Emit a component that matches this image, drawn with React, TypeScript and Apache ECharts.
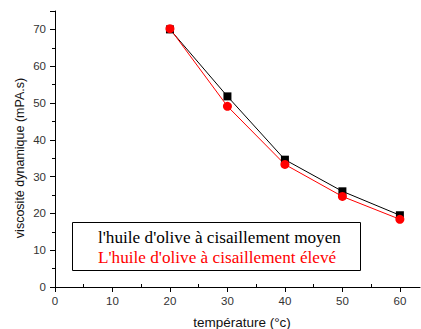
import React, { useEffect, useRef } from "react";
import * as echarts from "echarts";

const temperatures = [20, 30, 40, 50, 60];
const viscosityMedium = [70.0, 51.8, 34.6, 26.0, 19.5];
const viscosityHigh = [70.2, 49.1, 33.3, 24.6, 18.4];
const legendLabels = [
  "l'huile d'olive à cisaillement moyen",
  "L'huile d'olive à cisaillement élevé",
];
const xAxisTitle = "température (°c)";
const yAxisTitle = "viscosité dynamique (mPA.s)";

export default function App() {
  const ref = useRef<HTMLDivElement>(null);

  useEffect(() => {
    if (!ref.current) return;
    const chart = echarts.init(ref.current, null, { renderer: "svg" });
    const sans = "Liberation Sans";
    const serif = "Liberation Serif";
    const axisFont = { fontFamily: sans, fontSize: 11.5, color: "#333" };
    const xRange = { type: "value", min: 0, max: 63.5, interval: 10 };
    chart.setOption({
      animation: false,
      grid: { left: 55, right: 1, top: 11, bottom: 42 },
      xAxis: [
        {
          ...xRange,
          axisLine: { show: true, lineStyle: { color: "#000", width: 1 } },
          axisTick: { show: true, inside: false, length: 5, lineStyle: { color: "#000" } },
          axisLabel: { ...axisFont, margin: 8, showMaxLabel: false },
          splitLine: { show: false },
        },
        {
          // minor ticks of the temperature axis point into the plot
          ...xRange,
          position: "bottom",
          axisLine: { show: false },
          axisTick: { show: false, inside: true },
          minorTick: { show: true, splitNumber: 2, length: 3, lineStyle: { color: "#000" } },
          axisLabel: { show: false },
          splitLine: { show: false },
        },
      ],
      yAxis: {
        type: "value",
        min: 0,
        max: 75,
        interval: 10,
        axisLine: { show: true, lineStyle: { color: "#000", width: 1 } },
        axisTick: { show: true, inside: false, length: 5, lineStyle: { color: "#000" } },
        minorTick: { show: true, splitNumber: 2, length: 3, lineStyle: { color: "#000" } },
        axisLabel: { ...axisFont, margin: 9, showMaxLabel: false },
        splitLine: { show: false },
      },
      series: [
        {
          type: "line",
          data: temperatures.map((t, i) => [t, viscosityMedium[i]]),
          symbol: "rect",
          symbolSize: 8,
          lineStyle: { color: "#000", width: 1 },
          itemStyle: { color: "#000" },
        },
        {
          type: "line",
          data: temperatures.map((t, i) => [t, viscosityHigh[i]]),
          symbol: "circle",
          symbolSize: 9,
          lineStyle: { color: "#ff0000", width: 1 },
          itemStyle: { color: "#ff0000" },
        },
      ],
      graphic: [
        {
          type: "text",
          x: 242,
          y: 322,
          style: {
            text: xAxisTitle,
            fill: "#111",
            fontFamily: sans,
            fontSize: 13.5,
            align: "center",
            verticalAlign: "middle",
          },
        },
        {
          type: "text",
          x: 20,
          y: 158,
          rotation: Math.PI / 2,
          style: {
            text: yAxisTitle,
            fill: "#111",
            fontFamily: sans,
            fontSize: 12.5,
            align: "center",
            verticalAlign: "middle",
          },
        },
        {
          type: "rect",
          shape: { x: 72.5, y: 222.5, width: 288, height: 48 },
          style: { fill: "#fff", stroke: "#000", lineWidth: 1 },
          z: 10,
        },
        {
          type: "text",
          x: 98,
          y: 237,
          z: 11,
          style: {
            text: legendLabels[0],
            fill: "#000",
            fontFamily: serif,
            fontSize: 17.2,
            verticalAlign: "middle",
          },
        },
        {
          type: "text",
          x: 98,
          y: 257.5,
          z: 11,
          style: {
            text: legendLabels[1],
            fill: "#ff0000",
            fontFamily: serif,
            fontSize: 17.2,
            verticalAlign: "middle",
          },
        },
      ],
    });
    return () => chart.dispose();
  }, []);

  return (
    <div
      ref={ref}
      style={{ position: "fixed", left: 0, top: 0, width: 421, height: 329, background: "#fff" }}
    />
  );
}
